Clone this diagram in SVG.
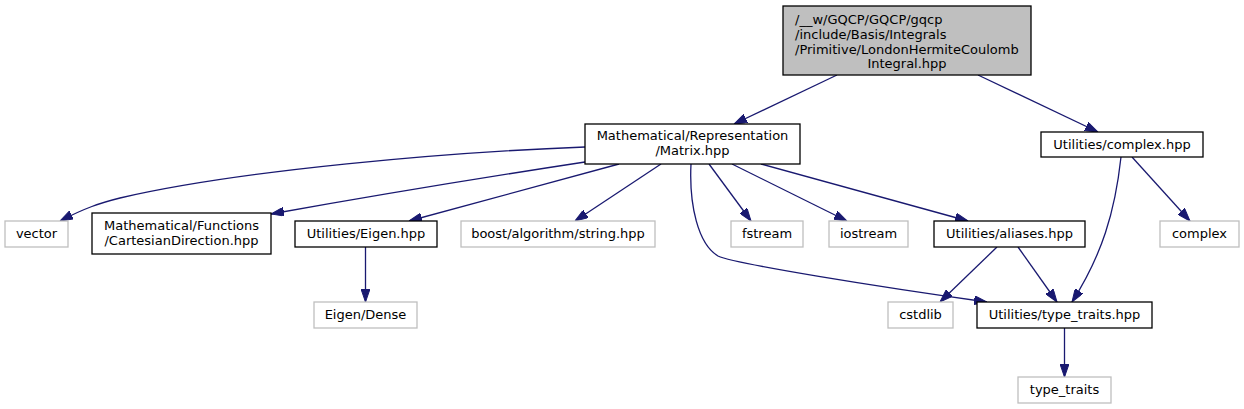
<svg xmlns="http://www.w3.org/2000/svg" width="1244" height="409" viewBox="0 0 1244 409">
<defs>
<style>
.n rect{fill:#ffffff;stroke:#000000;stroke-width:1.3}
.n.sys rect{stroke:#bfbfbf}
.n.root rect{fill:#bfbfbf;stroke:#000000}
text{font-family:"DejaVu Sans","Liberation Sans",sans-serif;font-size:13px;fill:#000000;text-anchor:middle}
text.l{text-anchor:start}
.e path{fill:none;stroke:#191970;stroke-width:1.3;marker-end:url(#ah)}
</style>
<marker id="ah" markerUnits="userSpaceOnUse" viewBox="0 0 13 9" refX="13" refY="4.5" markerWidth="13" markerHeight="9" orient="auto">
<path d="M0,0 L13,4.5 L0,9 Z" fill="#191970" stroke="#191970" stroke-width="1"/>
</marker>
</defs>
<rect width="1244" height="409" fill="#ffffff"/>
<g id="edges" class="e">
<path d="M837,75 L734,124"/>
<path d="M978,75 L1098,132"/>
<path d="M1132,157 L1190,221"/>
<path d="M1121,157 C1115,212 1102,255 1072,302"/>
<path d="M997,247 L940,302"/>
<path d="M1018,247 L1057,302"/>
<path d="M1064.5,328 L1064.5,377"/>
<path d="M365.5,247 L365.5,302"/>
<path d="M585,147 C450,152 240,170 120,198 C100,203 85,208 60,221"/>
<path d="M585,162 C480,178 360,198 271,214"/>
<path d="M619,164 L409,221"/>
<path d="M661,164 L575,221"/>
<path d="M709,164 L751,221"/>
<path d="M732,164 L847,221"/>
<path d="M761,164 L968,221"/>
<path d="M691,164 C689,205 698,244 718,256 C735,264 880,287 987,302"/>
</g>
<g id="node_root" class="n root">
<rect x="783" y="6" width="248" height="69"/>
<text class="l" x="795" y="23.5">/__w/GQCP/GQCP/gqcp</text>
<text class="l" x="795" y="38.5">/include/Basis/Integrals</text>
<text class="l" x="795" y="53.5">/Primitive/LondonHermiteCoulomb</text>
<text x="907" y="68">Integral.hpp</text>
</g>
<g id="node_matrix" class="n">
<rect x="585" y="124" width="215" height="40"/>
<text x="692.5" y="140">Mathematical/Representation</text>
<text x="692.5" y="155">/Matrix.hpp</text>
</g>
<g id="node_complex_hpp" class="n">
<rect x="1041" y="132" width="162" height="25"/>
<text x="1122" y="148.5">Utilities/complex.hpp</text>
</g>
<g id="node_vector" class="n sys">
<rect x="5" y="221" width="63" height="26"/>
<text x="36.5" y="238">vector</text>
</g>
<g id="node_cartesian" class="n">
<rect x="92" y="213" width="179" height="41"/>
<text x="181.5" y="230">Mathematical/Functions</text>
<text x="181.5" y="245">/CartesianDirection.hpp</text>
</g>
<g id="node_eigen_hpp" class="n">
<rect x="295" y="221" width="142" height="26"/>
<text x="366" y="238">Utilities/Eigen.hpp</text>
</g>
<g id="node_boost" class="n sys">
<rect x="461" y="221" width="194" height="26"/>
<text x="558" y="238">boost/algorithm/string.hpp</text>
</g>
<g id="node_fstream" class="n sys">
<rect x="731" y="221" width="72" height="26"/>
<text x="767" y="238">fstream</text>
</g>
<g id="node_iostream" class="n sys">
<rect x="829" y="221" width="79" height="26"/>
<text x="868.5" y="238">iostream</text>
</g>
<g id="node_aliases" class="n">
<rect x="934" y="221" width="151" height="26"/>
<text x="1009.5" y="238">Utilities/aliases.hpp</text>
</g>
<g id="node_complex" class="n sys">
<rect x="1160" y="221" width="79" height="26"/>
<text x="1199.5" y="238">complex</text>
</g>
<g id="node_eigen_dense" class="n sys">
<rect x="314" y="302" width="103" height="26"/>
<text x="365.5" y="319">Eigen/Dense</text>
</g>
<g id="node_cstdlib" class="n sys">
<rect x="888" y="302" width="65" height="26"/>
<text x="920.5" y="319">cstdlib</text>
</g>
<g id="node_type_traits_hpp" class="n">
<rect x="977" y="302" width="175" height="26"/>
<text x="1064.5" y="319">Utilities/type_traits.hpp</text>
</g>
<g id="node_type_traits" class="n sys">
<rect x="1018" y="377" width="93" height="26"/>
<text x="1064.5" y="394">type_traits</text>
</g>
</svg>
